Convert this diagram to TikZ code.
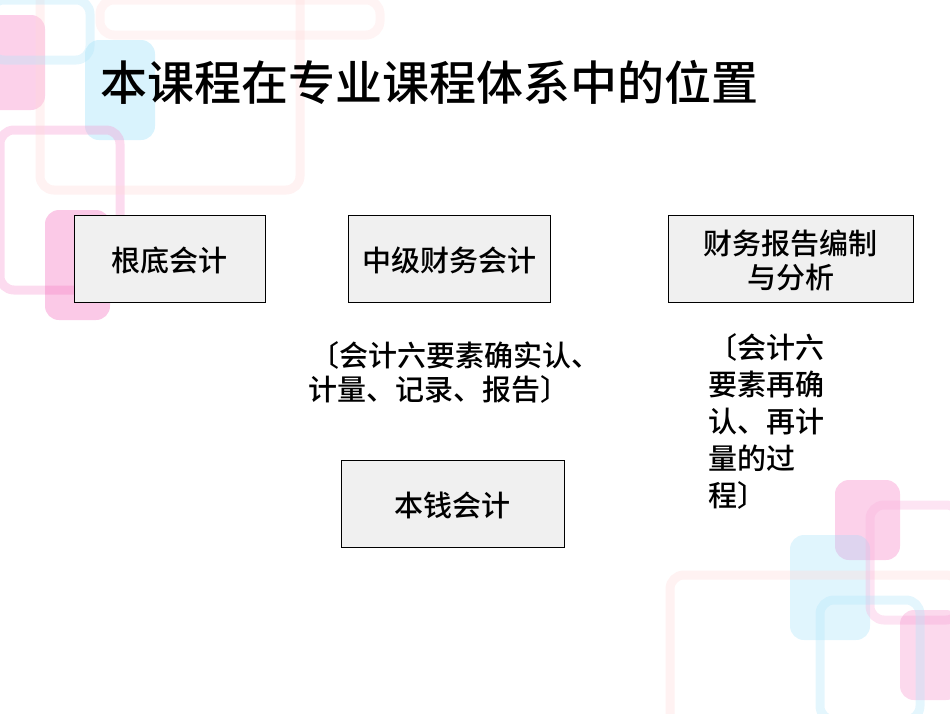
\documentclass[tikz,border=0pt]{standalone}
\usepackage{fontspec}
\newfontfamily\cjk{Noto Sans CJK SC Medium}
\begin{document}
\begin{tikzpicture}[x=1pt,y=-1pt,
  box/.style={draw=black,fill=gray!12,line width=0.8pt},
  lbl/.style={font=\cjk\fontsize{29}{34}\selectfont,anchor=west,inner sep=0},
  deco/.style={rounded corners=14pt,line width=9pt,opacity=0.35},
  decof/.style={rounded corners=14pt,opacity=0.3}]
\useasboundingbox (0,0) rectangle (950,713);
% decorations top-left
\fill[decof,magenta!60] (-20,15) rectangle (45,110);
\fill[decof,cyan!50] (85,40) rectangle (155,140);
\draw[deco,magenta!40] (0,130) rectangle (120,290);
\draw[deco,pink!60] (40,-20) rectangle (300,190);
\draw[deco,cyan!30] (-10,0) rectangle (90,60);
\fill[decof,magenta!70] (45,210) rectangle (110,320);
\draw[deco,pink!50] (100,0) rectangle (380,35);
% decorations bottom-right
\fill[decof,magenta!60] (835,480) rectangle (900,560);
\fill[decof,cyan!40] (790,535) rectangle (870,640);
\draw[deco,pink!60] (670,575) rectangle (960,730);
\draw[deco,magenta!30] (870,505) rectangle (960,620);
\fill[decof,magenta!50] (900,610) rectangle (960,700);
\draw[deco,cyan!30] (820,600) rectangle (920,720);
% title
\node[anchor=west,inner sep=0,font=\cjk\fontsize{47}{52}\selectfont] (t) at (100,82) {本课程在专业课程体系中的位置};
% boxes
\draw[box] (74,215) rectangle (265,302);
\node[lbl,anchor=center] (a) at (169.5,260) {根底会计};
\draw[box] (348,215) rectangle (550,302);
\node[lbl,anchor=center] (b) at (449,260) {中级财务会计};
\draw[box] (668,215) rectangle (913,302);
\node[lbl,anchor=center,align=center] (c) at (790.5,260) {财务报告编制\\与分析};
\draw[box] (341,460) rectangle (564,547);
\node[lbl,anchor=center] (d) at (452.5,505) {本钱会计};
% notes
\node[lbl] (n1) at (310,355) {〔会计六要素确实认、};
\node[lbl] (n2) at (308,389) {计量、记录、报告〕};
\node[lbl,align=left,anchor=north west,font=\cjk\fontsize{29}{37}\selectfont] (n3) at (708,333) {〔会计六\\要素再确\\认、再计\\量的过\\程〕};
\end{tikzpicture}
\end{document}
